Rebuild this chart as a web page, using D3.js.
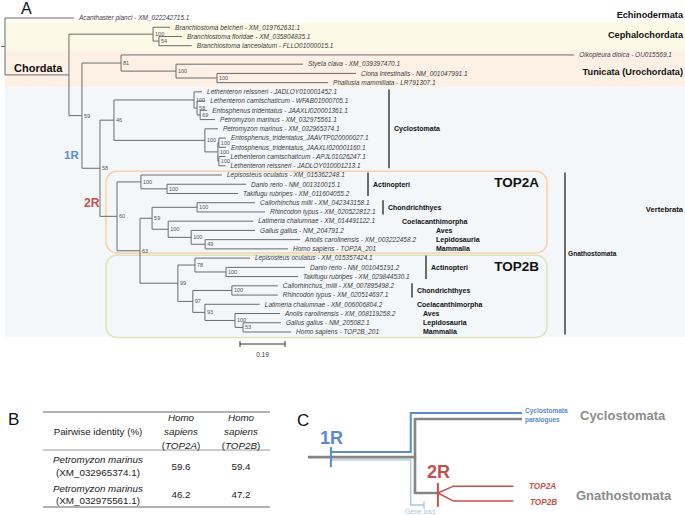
<!DOCTYPE html>
<meta charset="utf-8">
<head>
<style>
  body { margin: 0; background: #fff; }
  svg { display: block; font-family: "Liberation Sans", Arial, sans-serif; }
</style>
</head>
<body>
<div id="chart"></div>
<script src="https://d3js.org/d3.v7.min.js"></script>
<script>

// ---- panel A: tree as [id, parent, branch length, bootstrap] ----
var treeRows = [
  ["root", "", 0, ""],
  ["Acanthaster planci - XM_022242715.1", "root", 0.291, ""],
  ["chordata", "root", 0.270, ""],
  ["ceph", "chordata", 0.355, "100"],
  ["Branchiostoma belcheri - XM_019762631.1", "ceph", 0.072, ""],
  ["ceph2", "ceph", 0.025, "54"],
  ["Branchiostoma floridae - XM_035804835.1", "ceph2", 0.097, ""],
  ["Branchiostoma lanceolatum - FLLO01000015.1", "ceph2", 0.139, ""],
  ["olf", "chordata", 0.055, "59"],
  ["tun", "olf", 0.165, "81"],
  ["Oikopleura dioica - OU015569.1", "tun", 1.913, ""],
  ["tun2", "tun", 0.232, "100"],
  ["Styela clava - XM_039397470.1", "tun2", 0.536, ""],
  ["tun3", "tun2", 0.173, "100"],
  ["Ciona intestinalis - NM_001047991.1", "tun3", 0.587, ""],
  ["Phallusia mammillata - LR791307.1", "tun3", 0.469, ""],
  ["vert", "olf", 0.076, "58"],
  ["cyc", "vert", 0.059, "46"],
  ["cycA", "cyc", 0.338, "100"],
  ["Lethenteron reissneri - JADLOY010001452.1", "cycA", 0.034, ""],
  ["cycA2", "cycA", 0.013, "58"],
  ["Lethenteron camtschaticum - WFAB01000705.1", "cycA2", 0.034, ""],
  ["cycA3", "cycA2", 0.013, "69"],
  ["Entosphenus tridentatus - JAAXLI020001361.1", "cycA3", 0.030, ""],
  ["Petromyzon marinus - XM_032975561.1", "cycA3", 0.063, ""],
  ["cycB", "cyc", 0.384, "100"],
  ["Petromyzon marinus - XM_032965374.1", "cycB", 0.055, ""],
  ["cycB2", "cycB", 0.055, "100"],
  ["cycB3", "cycB2", 0.004, "100"],
  ["Entosphenus_tridentatus_JAAVTP020000027.1", "cycB3", 0.030, ""],
  ["Entosphenus_tridentatus_JAAXLI020001160.1", "cycB3", 0.030, ""],
  ["cycB4", "cycB2", 0.004, "100"],
  ["Lethenteron camtschaticum - APJL01026247.1", "cycB4", 0.028, ""],
  ["Lethenteron reissneri - JADLOY010001213.1", "cycB4", 0.028, ""],
  ["gna", "vert", 0.072, "60"],
  ["aFish", "gna", 0.101, "100"],
  ["Lepisosteus oculatus - XM_015362248.1", "aFish", 0.342, ""],
  ["aTel", "aFish", 0.110, "100"],
  ["Danio rerio - NM_001310015.1", "aTel", 0.334, ""],
  ["Takifugu rubripes - XM_011604055.2", "aTel", 0.300, ""],
  ["n63", "gna", 0.097, "63"],
  ["aRest", "n63", 0.051, "59"],
  ["aChon", "aRest", 0.190, "100"],
  ["Callorhinchus milii - XM_042343158.1", "aChon", 0.245, ""],
  ["Rhincodon typus - XM_020522812.1", "aChon", 0.287, ""],
  ["aSarc", "aRest", 0.068, "100"],
  ["Latimeria chalumnae - XM_014491122.1", "aSarc", 0.359, ""],
  ["aAmn", "aSarc", 0.097, "100"],
  ["Gallus gallus - NM_204791.2", "aAmn", 0.270, ""],
  ["aMam", "aAmn", 0.059, "49"],
  ["Anolis carolinensis - XM_003222458.2", "aMam", 0.401, ""],
  ["Homo sapiens - TOP2A_201", "aMam", 0.350, ""],
  ["b99", "n63", 0.160, "99"],
  ["bFish", "b99", 0.072, "78"],
  ["Lepisosteus oculatus - XM_015357424.1", "bFish", 0.232, ""],
  ["bTel", "bFish", 0.131, "100"],
  ["Danio rerio - NM_001045191.2", "bTel", 0.334, ""],
  ["Takifugu rubripes - XM_029844530.1", "bTel", 0.304, ""],
  ["b97", "b99", 0.063, "97"],
  ["bChon", "b97", 0.165, "100"],
  ["Callorhinchus_milii - XM_007895498.2", "bChon", 0.194, ""],
  ["Rhincodon typus - XM_020514697.1", "bChon", 0.194, ""],
  ["b93", "b97", 0.051, "93"],
  ["Latimeria chalumnae - XM_006006804.2", "b93", 0.232, ""],
  ["bAmn", "b93", 0.127, "100"],
  ["Anolis carolinensis - XM_008119258.2", "bAmn", 0.190, ""],
  ["b53", "bAmn", 0.034, "53"],
  ["Gallus gallus - NM_205082.1", "b53", 0.160, ""],
  ["Homo sapiens - TOP2B_201", "b53", 0.203, ""]
];

var scaleBarValue = 0.19;

// background bands, in leaf index units
var bandRanges = [[0.5, 3.5], [3.5, 7.5], [7.5, 34.5]];

// big clade names on the right: [name, leaf position]
var rightClades = [["Echinodermata", -0.3], ["Cephalochordata", 1.85], ["Tunicata (Urochordata)", 5.85], ["Vertebrata", 20.75]];

// clade bars: [name, first leaf, last leaf, bar?]
var cycloClade = ["Cyclostomata", 8, 16];
var gnathoClade = ["Gnathostomata", 17, 34];
var top2aClades = [["Actinopteri", 17, 19, true], ["Chondrichthyes", 20, 21, true], ["Coelacanthimorpha", 22, 22, false],
                   ["Aves", 23, 23, false], ["Lepidosauria", 24, 24, false], ["Mammalia", 25, 25, false]];
var top2bClades = [["Actinopteri", 26, 28, true], ["Chondrichthyes", 29, 30, true], ["Coelacanthimorpha", 31, 31, false],
                   ["Aves", 32, 32, false], ["Lepidosauria", 33, 33, false], ["Mammalia", 34, 34, false]];
var paralogBoxes = [["TOP2A", 16.6, 25.45], ["TOP2B", 25.7, 34.6]];

// ---- panel B ----
var tableHeader = ["Pairwise identity (%)", ["Homo", "sapiens", "TOP2A"], ["Homo", "sapiens", "TOP2B"]];
var tableRows = [
  ["Petromyzon marinus", "(XM_032965374.1)", "59.6", "59.4"],
  ["Petromyzon marinus", "(XM_032975561.1)", "46.2", "47.2"]
];

// ---- panel C: schematic paths in (time, lane) units ----
var grayPaths = [[[0, 4.8], [5, 4.8], [5, 0.65], [10, 0.65]], [[5, 4.8], [5, 8.7], [6.07, 8.7]]];
var bluePath = [[1.07, 4.25], [4.8, 4.25], [4.8, 0], [10, 0]];
var lossPath = [[1.07, 5.1], [4.8, 5.1], [4.8, 10], [5.42, 10]];
var redPaths = [[[6.07, 8.7], [6.8, 7.95], [9.6, 7.95]], [[6.07, 8.7], [6.8, 9.57], [9.6, 9.57]]];

var blue = "#5b8bc8", red = "#c4504c", grayC = "#8c8c8c", lightBlue = "#aac6e6";

var svg = d3.select("#chart").append("svg").attr("width", 685).attr("height", 515);

// ================= A =================
var x = d3.scaleLinear().domain([0, 1]).range([5, 5 + 45 / scaleBarValue]);
var y = d3.scaleLinear().domain([0, 34]).range([18, 332]);

var root = d3.stratify()
  .id(function(d) { return d[0]; })
  .parentId(function(d) { return d[1] || null; })(treeRows);

root.eachBefore(function(d) { d.dist = d.parent ? d.parent.dist + d.data[2] : 0; });
root.leaves().forEach(function(d, i) { d.idx = i; });
root.eachAfter(function(d) {
  d.px = x(d.dist);
  d.py = d.children ? (d.children[0].py + d.children[d.children.length - 1].py) / 2 : y(d.idx);
});

var bandColors = ["#fcf9e6", "#fdf1e6", "#f3f7fa"];
svg.append("g").selectAll("rect").data(bandRanges).enter().append("rect")
  .attr("x", 5).attr("width", 680)
  .attr("y", function(d) { return y(d[0]); })
  .attr("height", function(d) { return y(d[1]) - y(d[0]); })
  .style("fill", function(d, i) { return bandColors[i]; });

var boxColors = ["#f8cfab", "#dbe5bd"];
svg.append("g").selectAll("rect").data(paralogBoxes).enter().append("rect")
  .attr("x", 106).attr("width", 441)
  .attr("y", function(d) { return y(d[1]); })
  .attr("height", function(d) { return y(d[2]) - y(d[1]); })
  .attr("rx", 11)
  .style("fill", "none")
  .style("stroke", function(d, i) { return boxColors[i]; })
  .style("stroke-width", 1.5);

svg.append("g").selectAll("text").data(paralogBoxes).enter().append("text")
  .attr("x", 539)
  .attr("y", function(d) { return y(d[1]) + 16; })
  .attr("text-anchor", "end")
  .style("font-size", "13.5px").style("font-weight", "bold").style("fill", "#111")
  .text(function(d) { return d[0]; });

var tree = svg.append("g").style("stroke", "#6a6a6a").style("stroke-width", 1).style("fill", "none");
// horizontal branches
tree.selectAll(".h").data(root.descendants().filter(function(d) { return d.parent; })).enter().append("line")
  .attr("x1", function(d) { return d.parent.px; })
  .attr("x2", function(d) { return d.px; })
  .attr("y1", function(d) { return d.py; })
  .attr("y2", function(d) { return d.py; });
// vertical connectors
tree.selectAll(".v").data(root.descendants().filter(function(d) { return d.children; })).enter().append("line")
  .attr("x1", function(d) { return d.px; })
  .attr("x2", function(d) { return d.px; })
  .attr("y1", function(d) { return d.children[0].py; })
  .attr("y2", function(d) { return d.children[d.children.length - 1].py; });
tree.append("line").attr("x1", 1).attr("x2", root.px).attr("y1", root.py).attr("y2", root.py);

// leaf labels
svg.append("g").selectAll("text").data(root.leaves()).enter().append("text")
  .attr("x", function(d) { return d.px + 5; })
  .attr("y", function(d) { return d.py; })
  .attr("dy", "0.35em")
  .style("font-size", "6.5px").style("font-style", "italic").style("fill", "#3c3c3c")
  .text(function(d) { return d.id; });

// bootstrap values
svg.append("g").selectAll("text").data(root.descendants().filter(function(d) { return d.data[3]; })).enter().append("text")
  .attr("x", function(d) { return d.px + 2; })
  .attr("y", function(d) { return d.py; })
  .attr("dy", "0.35em")
  .style("font-size", "5.5px").style("fill", "#555")
  .text(function(d) { return d.data[3]; });

// right clade names
svg.append("g").selectAll("text").data(rightClades).enter().append("text")
  .attr("x", 683)
  .attr("y", function(d) { return y(d[1]); })
  .attr("dy", "0.35em")
  .attr("text-anchor", "end")
  .style("font-size", function(d, i) { return i < 3 ? "9.2px" : "7.6px"; })
  .style("font-weight", "bold").style("fill", "#111")
  .text(function(d) { return d[0]; });

function cladeBar(g, c, barX, textX, size) {
  if (c[3] !== false) {
    g.append("line")
      .attr("x1", barX).attr("x2", barX)
      .attr("y1", y(c[1]) - 2.5).attr("y2", y(c[2]) + 2.5)
      .style("stroke", "#222").style("stroke-width", 1.3);
  }
  g.append("text")
    .attr("x", textX)
    .attr("y", y((c[1] + c[2]) / 2))
    .attr("dy", "0.35em")
    .style("font-size", size).style("font-weight", "bold").style("fill", "#111")
    .text(c[0]);
}
var cl = svg.append("g");
cladeBar(cl, cycloClade, 389, 394, "7px");
cladeBar(cl, gnathoClade, 565, 568, "6.6px");
var aBarX = [368, 383, 0, 0, 0, 0], aTextX = [373, 388, 402, 436, 436, 436];
top2aClades.forEach(function(c, i) { cladeBar(cl, c, aBarX[i], aTextX[i], "7px"); });
var bBarX = [426, 412, 0, 0, 0, 0], bTextX = [431, 417, 417, 423, 423, 423];
top2bClades.forEach(function(c, i) { cladeBar(cl, c, bBarX[i], bTextX[i], "7px"); });

// Chordata, 1R, 2R
svg.append("text").attr("x", 14).attr("y", 72).text("Chordata")
  .style("font-size", "11px").style("font-weight", "bold").style("fill", "#111");
svg.append("text").attr("x", 64).attr("y", 159).text("1R")
  .style("font-size", "11.5px").style("font-weight", "bold").style("fill", blue);
svg.append("text").attr("x", 84).attr("y", 207).text("2R")
  .style("font-size", "12px").style("font-weight", "bold").style("fill", red);

// scale bar
var sb = svg.append("g").attr("transform", "translate(240,344)").style("stroke", "#333").style("stroke-width", 1);
var sbw = x(scaleBarValue) - x(0);
sb.append("line").attr("x1", 0).attr("x2", sbw);
sb.append("line").attr("x1", 0).attr("x2", 0).attr("y1", -3).attr("y2", 3);
sb.append("line").attr("x1", sbw).attr("x2", sbw).attr("y1", -3).attr("y2", 3);
sb.append("text").attr("x", sbw / 2).attr("y", 13).attr("text-anchor", "middle")
  .style("stroke", "none").style("fill", "#333").style("font-size", "6.5px").text(scaleBarValue);

svg.append("text").attr("x", 21).attr("y", 14).text("A").style("font-size", "16px").style("fill", "#111");

// ================= B =================
svg.append("text").attr("x", 8).attr("y", 425).text("B").style("font-size", "17px").style("fill", "#111");
var tb = svg.append("g").style("fill", "#222").style("font-size", "9.8px");
var colX = [98, 181, 241];
tb.append("line").attr("x1", 43).attr("x2", 270).attr("y1", 412).attr("y2", 412).style("stroke", "#666");
tb.append("line").attr("x1", 43).attr("x2", 270).attr("y1", 450).attr("y2", 450).style("stroke", "#999");
tb.append("line").attr("x1", 43).attr("x2", 270).attr("y1", 507).attr("y2", 507).style("stroke", "#666");
tb.append("text").attr("x", colX[0]).attr("y", 432).attr("dy", "0.35em").attr("text-anchor", "middle").text(tableHeader[0]);
[tableHeader[1], tableHeader[2]].forEach(function(h, i) {
  var cx = colX[i + 1];
  tb.append("text").attr("x", cx).attr("y", 418).attr("dy", "0.35em").attr("text-anchor", "middle").style("font-style", "italic").text(h[0]);
  tb.append("text").attr("x", cx).attr("y", 432).attr("dy", "0.35em").attr("text-anchor", "middle").style("font-style", "italic").text(h[1]);
  var t = tb.append("text").attr("x", cx).attr("y", 446).attr("dy", "0.35em").attr("text-anchor", "middle");
  t.append("tspan").text("(");
  t.append("tspan").style("font-style", "italic").text(h[2]);
  t.append("tspan").text(")");
});
var rowY = d3.scaleBand().domain(d3.range(tableRows.length)).range([452, 509]);
tableRows.forEach(function(r, i) {
  var cy = rowY(i) + rowY.bandwidth() / 2;
  tb.append("text").attr("x", colX[0]).attr("y", cy - 6.3).attr("dy", "0.35em").attr("text-anchor", "middle").style("font-style", "italic").text(r[0]);
  tb.append("text").attr("x", colX[0]).attr("y", cy + 6.3).attr("dy", "0.35em").attr("text-anchor", "middle").text(r[1]);
  tb.append("text").attr("x", colX[1]).attr("y", cy).attr("dy", "0.35em").attr("text-anchor", "middle").text(r[2]);
  tb.append("text").attr("x", colX[2]).attr("y", cy).attr("dy", "0.35em").attr("text-anchor", "middle").text(r[3]);
});

// ================= C =================
svg.append("text").attr("x", 297).attr("y", 426).text("C").style("font-size", "17px").style("fill", "#111");
var tX = d3.scaleLinear().domain([0, 10]).range([308, 522]);
var lY = d3.scaleLinear().domain([0, 10]).range([413, 505]);
var line = d3.line().x(function(d) { return tX(d[0]); }).y(function(d) { return lY(d[1]); });
var c = svg.append("g").style("fill", "none");

c.append("path").attr("d", line(lossPath)).style("stroke", lightBlue).style("stroke-width", 1.4);
c.append("line").attr("x1", tX(5.42)).attr("x2", tX(5.42)).attr("y1", lY(10) - 3.5).attr("y2", lY(10) + 3.5)
  .style("stroke", lightBlue).style("stroke-width", 1.4);
grayPaths.forEach(function(p) {
  c.append("path").attr("d", line(p)).style("stroke", "#858585").style("stroke-width", 2.6);
});
c.append("path").attr("d", line(bluePath)).style("stroke", blue).style("stroke-width", 2);
redPaths.forEach(function(p) {
  c.append("path").attr("d", line(p)).style("stroke", red).style("stroke-width", 1.5);
});
c.append("line").attr("x1", tX(1.07)).attr("x2", tX(1.07)).attr("y1", lY(3.7)).attr("y2", lY(5.9))
  .style("stroke", blue).style("stroke-width", 2);
c.append("line").attr("x1", tX(6.07)).attr("x2", tX(6.07)).attr("y1", lY(7.6)).attr("y2", lY(10.2))
  .style("stroke", red).style("stroke-width", 2);

svg.append("text").attr("x", 320).attr("y", 444).text("1R")
  .style("font-size", "18px").style("font-weight", "bold").style("fill", blue);
svg.append("text").attr("x", 427).attr("y", 478).text("2R")
  .style("font-size", "18px").style("font-weight", "bold").style("fill", red);
svg.append("text").attr("x", 525).attr("y", 413).text("Cyclostomata")
  .style("font-size", "6.5px").style("font-weight", "bold").style("fill", blue);
svg.append("text").attr("x", 525).attr("y", 421.5).text("paralogues")
  .style("font-size", "6.5px").style("font-weight", "bold").style("fill", blue);
svg.append("text").attr("x", 529).attr("y", 489).text("TOP2A")
  .style("font-size", "8.2px").style("font-weight", "bold").style("font-style", "italic").style("fill", red);
svg.append("text").attr("x", 530).attr("y", 504.5).text("TOP2B")
  .style("font-size", "8.2px").style("font-weight", "bold").style("font-style", "italic").style("fill", red);
svg.append("text").attr("x", 405).attr("y", 514).text("Gene loss")
  .style("font-size", "6.8px").style("fill", lightBlue);
svg.append("text").attr("x", 580).attr("y", 420).text("Cyclostomata")
  .style("font-size", "13px").style("font-weight", "bold").style("fill", grayC);
svg.append("text").attr("x", 576).attr("y", 500).text("Gnathostomata")
  .style("font-size", "13px").style("font-weight", "bold").style("fill", grayC);

</script>
</body>
